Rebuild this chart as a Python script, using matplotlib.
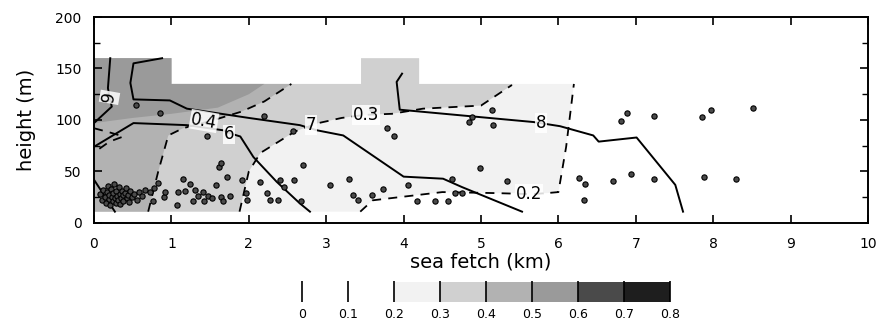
import numpy as np
import matplotlib
matplotlib.use("Agg")
import matplotlib.pyplot as plt
from matplotlib.colors import ListedColormap, BoundaryNorm
from matplotlib.cm import ScalarMappable

# shading levels of the fraction field and their grey tones
levels = [0, 0.1, 0.2, 0.3, 0.4, 0.5, 0.6, 0.7, 0.8]
level_tones = ['#ffffff', '#ffffff', '#f2f2f2', '#d0d0d0', '#b2b2b2',
               '#9a9a9a', '#4a4a4a', '#1e1e1e']

# filled areas (km, m), each with the level it reaches
area_02_x = [0, 3.44, 3.6, 4.5, 5.2, 5.85, 6.0, 6.1, 6.2, 4.2, 4.2, 3.45, 3.45, 1.0, 1.0, 0]
area_02_y = [11, 11, 22, 30, 29, 29, 30, 74, 135, 135, 160, 160, 135, 135, 160, 160]
area_03_x = [0, 1.88, 2.0, 2.15, 2.6, 2.9, 3.2, 3.5, 3.85, 4.25, 5.0, 5.4, 5.42,
             4.2, 4.2, 3.45, 3.45, 1.0, 1.0, 0]
area_03_y = [11, 11, 50, 68, 89, 97, 102, 105, 106, 111, 114, 134, 135,
             135, 160, 160, 135, 135, 160, 160]
area_04_x = [0, 0.70, 0.83, 0.96, 1.15, 1.55, 1.9, 2.2, 2.55, 1.0, 1.0, 0]
area_04_y = [11, 11, 50, 85, 92, 100, 108, 118, 135, 135, 160, 160]
area_05_x = [0, 0.5, 1.0, 1.6, 2.0, 2.2, 1.0, 1.0, 0]
area_05_y = [97, 102, 106, 112, 125, 135, 135, 160, 160]
area_values = [0.25, 0.35, 0.45, 0.55]

# solid isolines
iso5_x = [0.0, 0.27]
iso5_y = [42, 11]
iso6_x = [0.0, 0.51, 1.2, 1.67, 1.76, 1.89, 2.06, 2.36, 2.66, 2.79]
iso6_y = [74, 97, 95, 90, 87, 84, 64, 40, 19, 11]
iso7_x = [0.88, 0.51, 0.47, 0.51, 0.98, 1.2, 2.0, 2.66, 2.88, 3.22, 4.0, 4.51, 4.75, 5.53]
iso7_y = [160, 155, 136, 120, 119, 111, 102, 95, 90, 85, 45, 43, 35, 11]
iso8_x = [3.98, 3.91, 3.95, 5.68, 6.02, 6.45, 6.52, 7.01, 7.51, 7.61]
iso8_y = [145, 137, 110, 98, 94, 85, 79, 83, 37, 11]
iso9_x = [0.21, 0.18, 0.20, 0.23, 0.0]
iso9_y = [160, 131, 122, 113, 97]

# dashed contours of the fraction field
c02_x = [3.44, 3.6, 4.5, 5.2, 5.65, 5.85, 6.0, 6.1, 6.2]
c02_y = [11, 22, 30, 29, 28, 29, 30, 74, 135]
c03_x = [1.88, 2.0, 2.15, 2.6, 2.9, 3.2, 3.5, 3.85, 4.25, 5.0, 5.4]
c03_y = [11, 50, 68, 89, 97, 102, 105, 106, 111, 114, 134]
c04_x = [0.70, 0.83, 0.96, 1.15, 1.55, 1.9, 2.2, 2.55]
c04_y = [11, 50, 85, 92, 100, 108, 118, 135]
c05_x = [0.0, 0.2, 0.38, 0.2, 0.03]
c05_y = [92, 88, 84, 79, 70]

# line labels
label_text = ['9', '6', '7', '8', '0.4', '0.3', '0.2']
label_x = [0.20, 1.74, 2.80, 5.78, 1.42, 3.52, 5.62]
label_y = [122, 86, 95, 97, 99, 105, 28]
label_rot = [80, 0, 0, 0, -10, 0, 0]

# sample positions
pts_x = [0.08, 0.10, 0.12, 0.14, 0.15, 0.17, 0.18, 0.19, 0.20, 0.21, 0.22, 0.23, 0.24,
         0.25, 0.26, 0.27, 0.28, 0.29, 0.30, 0.31, 0.32, 0.33, 0.34, 0.35, 0.36, 0.37,
         0.38, 0.40, 0.41, 0.42, 0.44, 0.45, 0.47, 0.49, 0.52, 0.55, 0.58, 0.62,
         0.54, 0.85, 0.66, 0.72, 0.76, 0.78, 0.83, 0.90, 0.92, 1.07, 1.09, 1.15, 1.18,
         1.24, 1.28, 1.30, 1.34, 1.41, 1.42, 1.47, 1.46, 1.52, 1.58, 1.61, 1.64, 1.64,
         1.67, 1.72, 1.76, 1.91, 1.97, 1.98, 2.14, 2.19, 2.23, 2.27, 2.38, 2.40, 2.46,
         2.57, 2.58, 2.67, 2.70,
         3.05, 3.29, 3.34, 3.41, 3.59, 3.59, 3.73, 3.78, 3.87, 4.06, 4.17, 4.41, 4.57,
         4.63, 4.66, 4.76, 4.84, 4.88, 4.99, 5.14, 5.15, 5.33,
         6.27, 6.34, 6.33, 6.70, 6.94, 7.24, 7.88, 8.30, 6.81, 6.88, 7.24, 7.86, 7.97, 8.51]
pts_y = [28, 22, 32, 25, 19, 30, 36, 23, 27, 17, 33, 25, 21,
         29, 38, 24, 19, 31, 26, 22, 35, 28, 18, 24, 31, 27,
         21, 29, 34, 24, 27, 20, 31, 25, 28, 22, 30, 26,
         115, 107, 32, 30, 21, 34, 39, 25, 30, 17, 30, 43, 31,
         38, 21, 32, 26, 30, 21, 26, 84, 24, 37, 54, 58, 25,
         21, 45, 26, 42, 29, 22, 40, 104, 29, 22, 22, 42, 35,
         89, 42, 21, 56,
         37, 43, 27, 22, 111, 27, 33, 92, 84, 37, 21, 21, 21,
         43, 29, 29, 98, 103, 53, 110, 95, 41,
         44, 38, 22, 41, 48, 43, 45, 43, 99, 107, 104, 103, 110, 112]

cmap = ListedColormap(level_tones)
norm = BoundaryNorm(levels, cmap.N)

fig = plt.figure(figsize=(8.76, 3.22), dpi=100)
ax = fig.add_axes([0.1073, 0.3075, 0.8836, 0.6397])

areas = [(area_02_x, area_02_y), (area_03_x, area_03_y),
         (area_04_x, area_04_y), (area_05_x, area_05_y)]
for (ax_x, ax_y), val in zip(areas, area_values):
    ax.fill(ax_x, ax_y, color=cmap(norm(val)), lw=0, zorder=1)

for xs, ys in [(iso5_x, iso5_y), (iso6_x, iso6_y), (iso7_x, iso7_y),
               (iso8_x, iso8_y), (iso9_x, iso9_y)]:
    ax.plot(xs, ys, color='black', lw=1.4, zorder=3)

for xs, ys in [(c02_x, c02_y), (c03_x, c03_y), (c04_x, c04_y), (c05_x, c05_y)]:
    ax.plot(xs, ys, color='black', lw=1.3, ls=(0, (5, 4)), zorder=3)

ax.plot(pts_x, pts_y, 'o', ms=3.8, mfc='#4a4a4a', mec='black', mew=0.8, zorder=4)

for t, x, y, r in zip(label_text, label_x, label_y, label_rot):
    ax.text(x, y, t, fontsize=12, ha='center', va='center', rotation=r, zorder=5,
            bbox=dict(boxstyle='square,pad=0.05', fc='white', ec='none', alpha=0.85))

ax.set_xlim(0, 10)
ax.set_ylim(0, 200)
ax.set_xticks(range(0, 11))
ax.set_yticks([0, 50, 100, 150, 200])
ax.set_yticks([25, 75, 125, 175], minor=True)
ax.tick_params(which='both', direction='in', top=True, right=True, labelsize=10)
ax.tick_params(which='major', length=6, width=1.2)
ax.tick_params(which='minor', length=4, width=1.0)
ax.tick_params(axis='x', pad=10)
ax.tick_params(axis='y', pad=9)
for s in ax.spines.values():
    s.set_linewidth(1.4)
ax.set_xlabel('sea fetch (km)', fontsize=14, labelpad=1)
ax.set_ylabel('height (m)', fontsize=14, labelpad=14)

cax = fig.add_axes([0.3447, 0.0621, 0.4201, 0.0621])
cb = fig.colorbar(ScalarMappable(norm=norm, cmap=cmap), cax=cax,
                  orientation='horizontal', ticks=levels)
cb.outline.set_visible(False)
cb.set_ticklabels(['0', '0.1', '0.2', '0.3', '0.4', '0.5', '0.6', '0.7', '0.8'])
cax.tick_params(direction='in', length=15, width=1.2, labelsize=9, pad=4)

fig.savefig('out.png', dpi=100)
